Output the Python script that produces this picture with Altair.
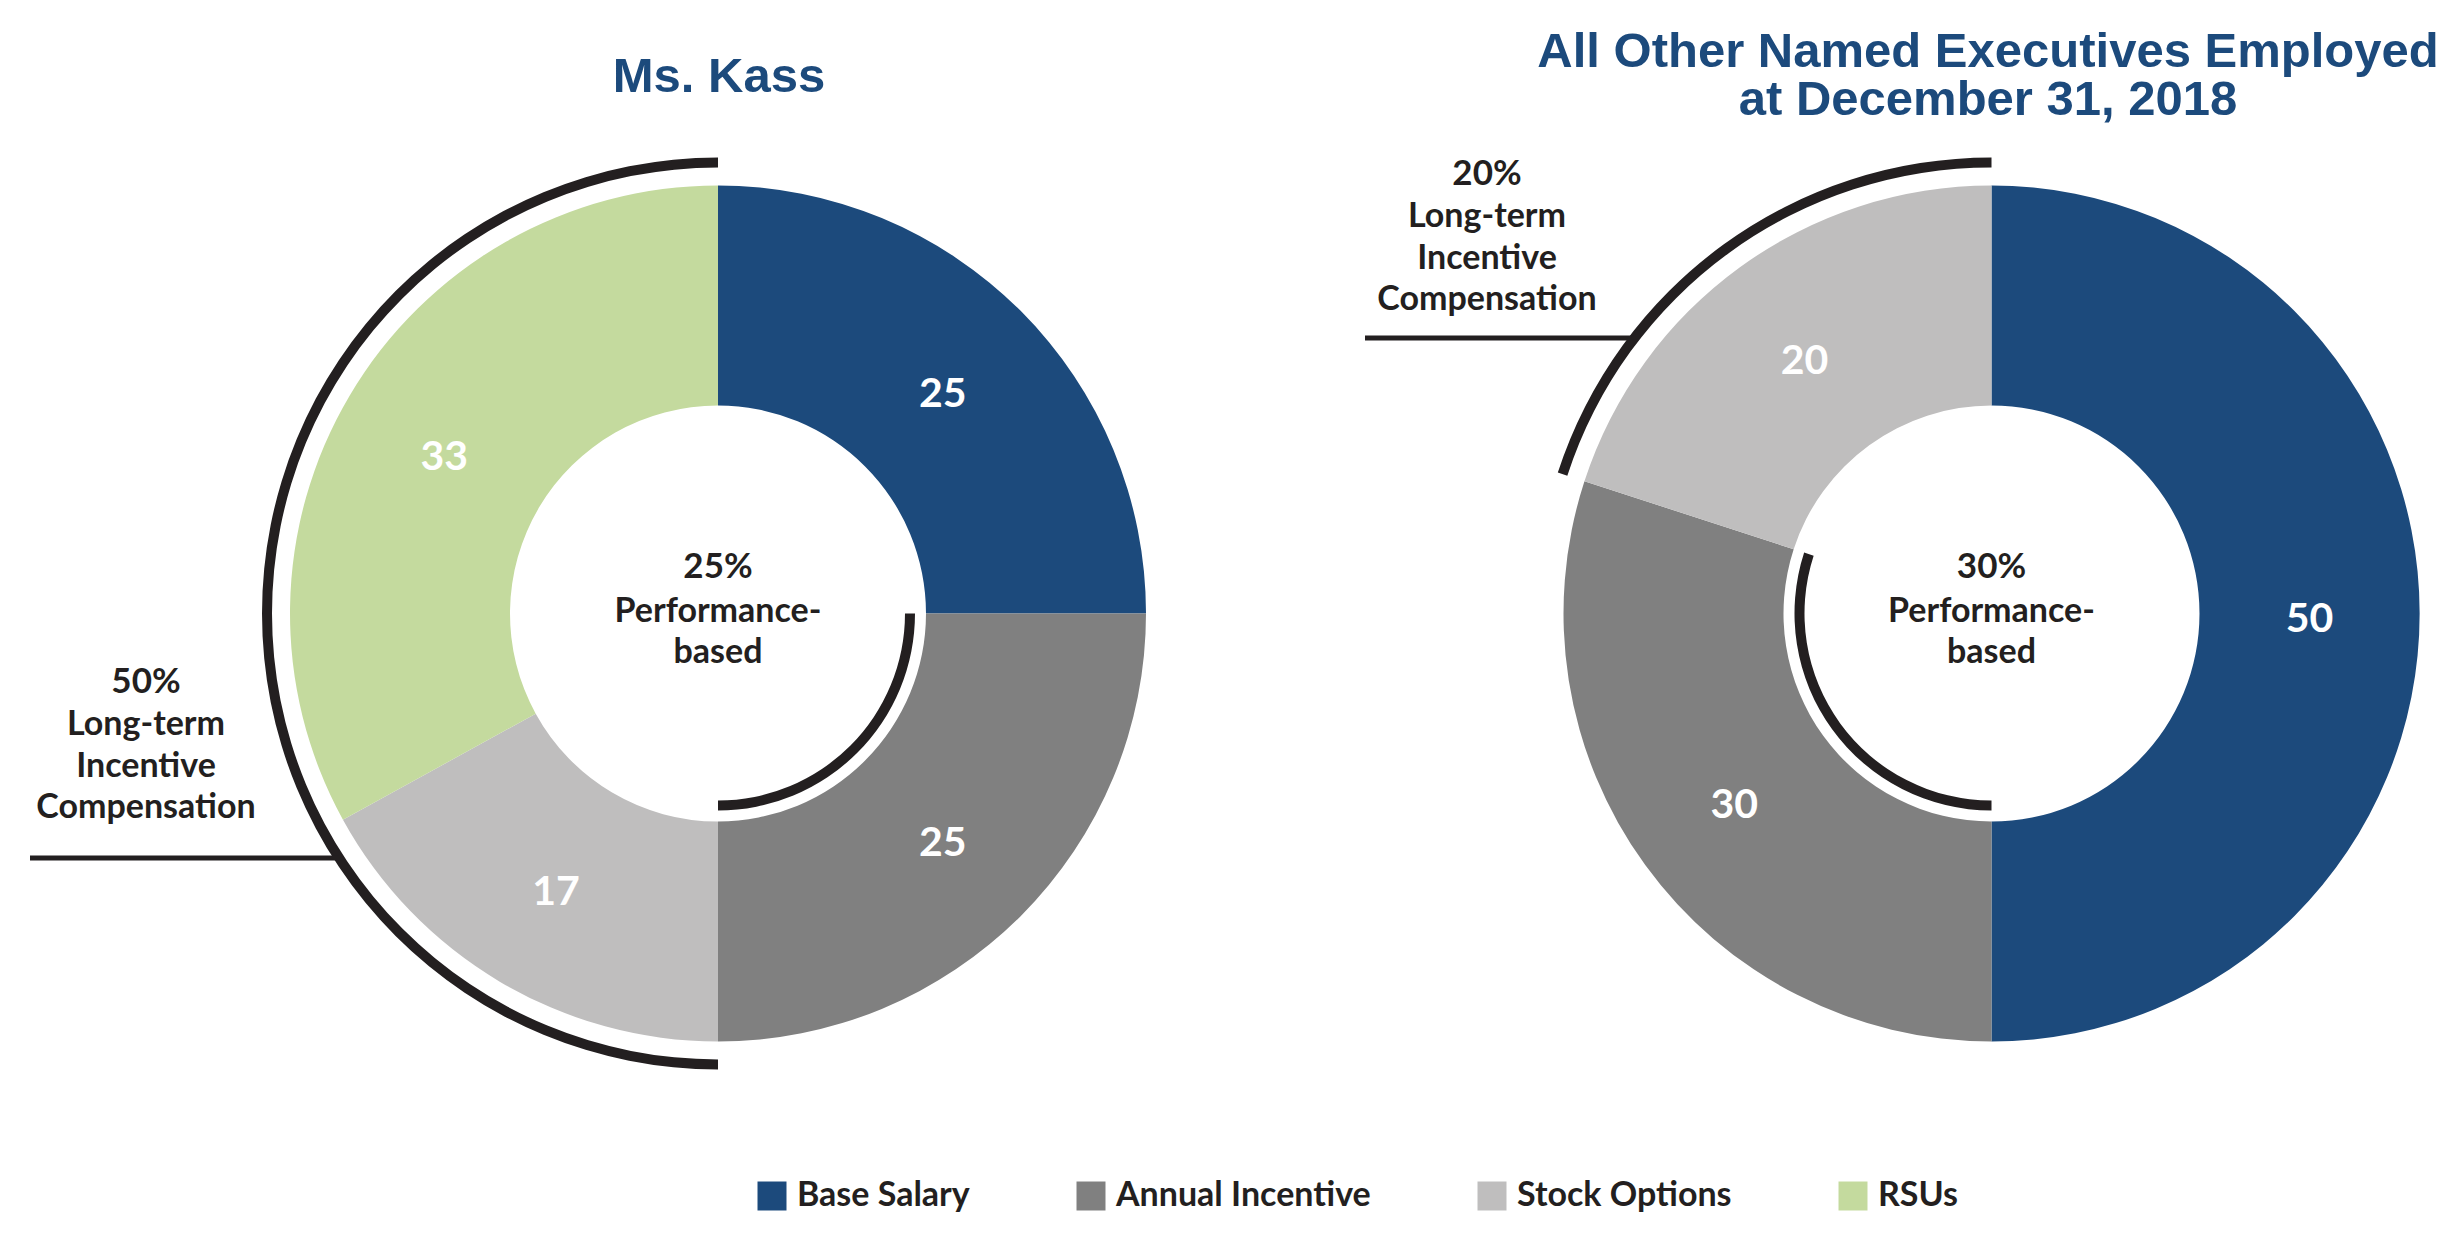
import math
import altair as alt
import pandas as pd

# ---------------- data ----------------
categories = ["Base Salary", "Annual Incentive", "Stock Options", "RSUs"]
colors = ["#1c4a7c", "#808080", "#bfbebe", "#c4da9e"]

kass_values = [25, 25, 17, 33]
others_values = [50, 30, 20]

title_left = ["Ms. Kass"]
title_right = ["All Other Named Executives Employed", "at December 31, 2018"]

perf_pct = ["25%", "30%"]
perf_label = ["Performance-", "based"]
lti_pct = ["50%", "20%"]
lti_label = ["Long-term", "Incentive", "Compensation"]

# bracket spans (in percent of each donut)
perf_span = [(25, 50), (50, 80)]
lti_span = [(50, 100), (80, 100)]

# ---------------- styling ----------------
BODY = "Lato"
TITLE = "Liberation Sans"
INK = "#231f20"
NAVY = "#1c4a7c"

W, H = 2444, 1231
CY = 605.5
CX = [710, 1983.5]
R_IN, R_OUT = 208, 428

theta_scale = alt.Scale(domain=[0, 100])
color_scale = alt.Scale(domain=categories, range=colors)
legend = alt.Legend(
    title=None, orient="none", legendX=747, legendY=1171, direction="horizontal",
    columns=4, columnPadding=104, symbolType="square", symbolSize=841,
    symbolStrokeWidth=0, symbolOpacity=1, labelFont=BODY, labelFontSize=34,
    labelFontWeight="bold", labelColor=INK, labelOffset=8, labelLimit=600,
)


def donut(values, cx):
    df = pd.DataFrame({
        "cat": categories[:len(values)],
        "value": values,
        "idx": list(range(len(values))),
    })
    base = alt.Chart(df).encode(
        theta=alt.Theta("value:Q", stack=True, scale=theta_scale),
        order=alt.Order("idx:Q"),
        x=alt.value(cx), y=alt.value(CY),
    )
    arcs = base.mark_arc(innerRadius=R_IN, outerRadius=R_OUT).encode(
        color=alt.Color("cat:N", scale=color_scale, legend=legend)
    )
    labels = base.mark_text(
        radius=318, font=BODY, fontSize=41, fontWeight="bold", color="white",
        align="center", baseline="middle", dy=6,
    ).encode(text="value:Q", detail="cat:N")
    return [arcs, labels]


def bracket(span, cx, r_in, r_out):
    df = pd.DataFrame({"start": [span[0]], "end": [span[1]]})
    return alt.Chart(df).mark_arc(innerRadius=r_in, outerRadius=r_out, color=INK).encode(
        theta=alt.Theta("start:Q", scale=theta_scale),
        theta2="end:Q",
        x=alt.value(cx), y=alt.value(CY),
    )


def text_block(lines, x, y, size, weight, color=INK, font=BODY, line_h=42):
    df = pd.DataFrame({"t": ["\n".join(lines)]})
    return alt.Chart(df).mark_text(
        font=font, fontSize=size, fontWeight=weight, color=color,
        align="center", baseline="alphabetic", lineBreak="\n", lineHeight=line_h,
    ).encode(text="t:N", x=alt.value(x), y=alt.value(y))


def leader(x1, x2, y):
    df = pd.DataFrame({"k": [0]})
    return alt.Chart(df).mark_rule(color=INK, strokeWidth=5).encode(
        x=alt.value(x1), x2=alt.value(x2), y=alt.value(y)
    )


layers = []
layers += donut(kass_values, CX[0])
layers += donut(others_values, CX[1])

for i in range(2):
    layers.append(bracket(lti_span[i], CX[i], 446, 456))
    layers.append(bracket(perf_span[i], CX[i], 187, 197))
    layers.append(text_block([perf_pct[i]], CX[i], 570, 35, "bold"))
    layers.append(text_block(perf_label, CX[i], 614, 34, "bold", line_h=41))

# long-term incentive annotations
layers.append(text_block([lti_pct[0]], 138, 685, 35, "bold"))
layers.append(text_block(lti_label, 138, 727, 34, "bold", line_h=41.5))
layers.append(leader(22, 331, 850))
layers.append(text_block([lti_pct[1]], 1479, 177, 35, "bold"))
layers.append(text_block(lti_label, 1479, 219, 34, "bold", line_h=41.5))
layers.append(leader(1357, 1626, 330))

# titles
layers.append(text_block(title_left, 711, 84, 49, "bold", color=NAVY, font=TITLE))
layers.append(text_block(title_right, 1980, 59, 49, "bold", color=NAVY, font=TITLE, line_h=48))

chart = alt.layer(*layers).properties(
    width=W, height=H, padding=0, autosize=alt.AutoSizeParams(type="none")
).configure_view(stroke=None)

chart.save("out.html", embed_options={"renderer": "svg", "actions": False})
